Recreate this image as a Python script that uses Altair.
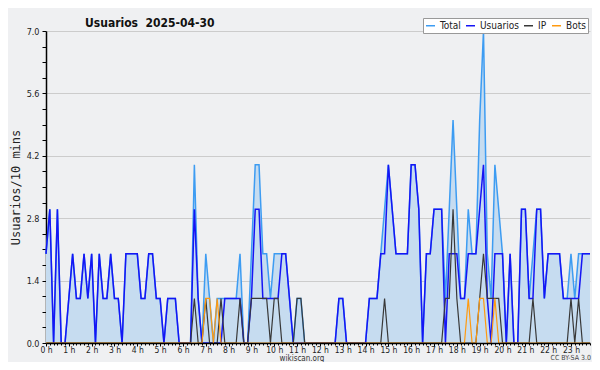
import altair as alt
import pandas as pd

FONT = "DejaVu Sans Condensed, DejaVu Sans"
SERIES = ["Total", "Usuarios", "IP", "Bots"]
COLORS = ["#3d9cf2", "#1515f5", "#383838", "#ff9a10"]
WIDTHS = [1.5, 1.5, 1.2, 1.2]
AREA_FILL = "#c6dcf0"

TITLE = "Usuarios\u00a0 2025-04-30"
Y_TITLE = "Usuarios/10 mins"
X_TITLE = "wikiscan.org"
CREDIT = ["CC BY-SA 3.0"]

# 10-minute slots, 0 h .. 23 h 50
TOTAL = [2, 3, 0, 3, 0, 0, 1, 2, 1, 1,
         2, 1, 2, 0, 2, 1, 1, 2, 1, 1,
         0, 2, 2, 2, 2, 1, 1, 2, 2, 1,
         1, 0, 1, 1, 1, 0, 0, 0, 0, 4,
         1, 0, 2, 1, 0, 1, 1, 1, 1, 1,
         1, 2, 0, 0, 2, 4, 4, 2, 2, 1,
         2, 2, 2, 2, 1, 0, 1, 1, 0, 0,
         0, 0, 0, 0, 0, 0, 0, 1, 1, 0,
         0, 0, 0, 0, 0, 1, 1, 1, 2, 3,
         4, 3, 2, 2, 2, 2, 4, 4, 3, 0,
         2, 2, 3, 3, 3, 1, 3, 5, 3, 1,
         1, 3, 2, 2, 5, 7, 2, 1, 4, 3,
         2, 0, 2, 0, 0, 3, 3, 1, 2, 3,
         3, 1, 2, 2, 2, 2, 1, 1, 2, 1,
         2, 2, 2, 2]

USUARIOS = [2, 3, 0, 3, 0, 0, 1, 2, 1, 1,
            2, 1, 2, 0, 2, 1, 1, 2, 1, 1,
            0, 2, 2, 2, 2, 1, 1, 2, 2, 1,
            1, 0, 1, 1, 1, 0, 0, 0, 0, 3,
            1, 0, 0, 0, 0, 0, 0, 1, 1, 1,
            1, 1, 0, 0, 1, 3, 3, 1, 1, 1,
            1, 1, 2, 2, 1, 0, 0, 0, 0, 0,
            0, 0, 0, 0, 0, 0, 0, 1, 1, 0,
            0, 0, 0, 0, 0, 1, 1, 1, 2, 2,
            4, 3, 2, 2, 2, 2, 4, 4, 3, 0,
            2, 2, 3, 3, 3, 0, 2, 2, 2, 1,
            1, 2, 2, 2, 3, 4, 1, 0, 2, 2,
            2, 0, 2, 0, 0, 3, 3, 1, 1, 3,
            3, 1, 2, 2, 2, 2, 1, 1, 1, 1,
            1, 2, 2, 2]

IP = [0, 0, 0, 0, 0, 0, 0, 0, 0, 0,
      0, 0, 0, 0, 0, 0, 0, 0, 0, 0,
      0, 0, 0, 0, 0, 0, 0, 0, 0, 0,
      0, 0, 0, 0, 0, 0, 0, 0, 0, 1,
      0, 0, 1, 0, 0, 0, 1, 0, 0, 0,
      0, 1, 0, 0, 1, 1, 1, 1, 1, 0,
      1, 1, 0, 0, 0, 0, 1, 1, 0, 0,
      0, 0, 0, 0, 0, 0, 0, 0, 0, 0,
      0, 0, 0, 0, 0, 0, 0, 0, 0, 1,
      0, 0, 0, 0, 0, 0, 0, 0, 0, 0,
      0, 0, 0, 0, 0, 1, 1, 3, 1, 0,
      0, 0, 0, 0, 1, 2, 1, 1, 1, 1,
      0, 0, 0, 0, 0, 0, 0, 0, 1, 0,
      0, 0, 0, 0, 0, 0, 0, 0, 1, 0,
      1, 0, 0, 0]

BOTS = [0, 0, 0, 0, 0, 0, 0, 0, 0, 0,
        0, 0, 0, 0, 0, 0, 0, 0, 0, 0,
        0, 0, 0, 0, 0, 0, 0, 0, 0, 0,
        0, 0, 0, 0, 0, 0, 0, 0, 0, 0,
        0, 0, 1, 1, 0, 1, 0, 0, 0, 0,
        0, 0, 0, 0, 0, 0, 0, 0, 0, 0,
        0, 0, 0, 0, 0, 0, 0, 0, 0, 0,
        0, 0, 0, 0, 0, 0, 0, 0, 0, 0,
        0, 0, 0, 0, 0, 0, 0, 0, 0, 0,
        0, 0, 0, 0, 0, 0, 0, 0, 0, 0,
        0, 0, 0, 0, 0, 0, 0, 0, 0, 0,
        0, 1, 0, 0, 1, 1, 0, 0, 1, 0,
        0, 0, 0, 0, 0, 0, 0, 0, 0, 0,
        0, 0, 0, 0, 0, 0, 0, 0, 0, 0,
        0, 0, 0, 0]

X_TICKS = list(range(144))
Y_TICKS = [round(k * 0.35, 2) for k in range(21)]

rows = []
for name, vals in zip(SERIES, [TOTAL, USUARIOS, IP, BOTS]):
    for i, v in enumerate(vals):
        rows.append({"slot": i, "serie": name, "valor": v})
df = pd.DataFrame(rows)

x_enc = alt.X(
    "slot:Q",
    scale=alt.Scale(domain=[0, 143], nice=False, zero=False),
    axis=alt.Axis(
        values=X_TICKS,
        labelExpr="datum.value % 6 == 0 ? (datum.value / 6) + ' h' : ''",
        tickSize={"condition": {"test": "datum.value % 6 == 0", "value": 3}, "value": 2},
        tickColor="#000000",
        domainColor="#000000",
        domainWidth=1.5,
        grid=False,
        zindex=1,
        labelOverlap=False,
        labelFlush=False,
        labelFont=FONT,
        labelFontSize=8.5,
        labelColor="#222222",
        labelPadding=-1,
        title=X_TITLE,
        titleFont=FONT,
        titleFontSize=8,
        titleFontWeight="normal",
        titleColor="#333333",
        titleX=255.5,
        titleY=17,
        titleAlign="center",
        titleBaseline="alphabetic",
    ),
)

y_enc = alt.Y(
    "valor:Q",
    scale=alt.Scale(domain=[0, 7], nice=False),
    axis=alt.Axis(
        values=Y_TICKS,
        labelExpr="round(datum.value * 100) % 140 == 0 ? format(datum.value, '.1f') : ''",
        tickSize=4,
        tickColor="#000000",
        domainColor="#000000",
        domainWidth=1.5,
        grid=True,
        gridColor="#cccccc",
        gridOpacity={"condition": {"test": "round(datum.value * 100) % 140 == 0 && datum.value > 0",
                                   "value": 1}, "value": 0},
        labelOverlap=False,
        labelFlush=False,
        labelFont=FONT,
        labelFontSize=9,
        labelColor="#222222",
        labelPadding=3,
        title=Y_TITLE,
        titleFont="DejaVu Sans Mono",
        titleFontSize=12,
        titleFontWeight="normal",
        titleColor="#222222",
        titleAngle=270,
        titleX=-31,
        titleY=156,
        titleAlign="center",
        titleBaseline="middle",
    ),
)

legend = alt.Legend(
    title=None,
    orient="none",
    legendX=377,
    legendY=-13,
    direction="horizontal",
    symbolType="stroke",
    symbolSize=81,
    symbolStrokeWidth=1.5,
    labelFont=FONT,
    labelFontSize=10,
    labelColor="#222222",
    labelOffset=4,
    columnPadding=2,
    padding=2,
    fillColor="#ffffff",
    strokeColor="#999999",
)

color_enc = alt.Color("serie:N", scale=alt.Scale(domain=SERIES, range=COLORS), legend=legend)

base = alt.Chart(df)

area = base.transform_filter(alt.datum.serie == "Total").mark_area(
    color=AREA_FILL, opacity=1
).encode(x=x_enc, y=y_enc)

layers = [area]
for name, w in zip(SERIES, WIDTHS):
    layers.append(
        base.transform_filter(alt.datum.serie == name)
        .mark_line(strokeWidth=w)
        .encode(x=x_enc, y=y_enc, color=color_enc)
    )

credit = alt.Chart(pd.DataFrame({"txt": CREDIT})).mark_text(
    align="right", baseline="alphabetic", font=FONT, fontSize=7, color="#444444"
).encode(text="txt:N", x=alt.value(545), y=alt.value(329))
layers.append(credit)

chart = alt.layer(*layers).properties(
    width=544,
    height=312,
    padding={"left": 38, "top": 23, "right": 2, "bottom": 19},
    autosize=alt.AutoSizeParams(type="none"),
    background="#eff0f2",
    title=alt.TitleParams(
        TITLE, anchor="start", frame="group", dx=39, font=FONT, fontSize=12,
        fontWeight="bold", color="#111111", baseline="alphabetic", offset=-21,
    ),
).configure_view(strokeWidth=0)

chart.save("out.html", embed_options={"renderer": "svg", "actions": False})
